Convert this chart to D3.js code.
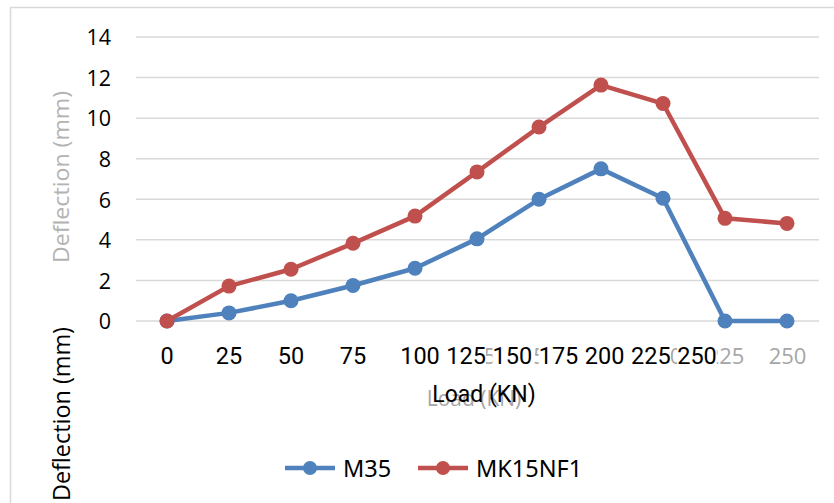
<!DOCTYPE html>
<html>
<head>
<meta charset="utf-8">
<script src="https://cdn.jsdelivr.net/npm/d3@7"></script>
<style>
  html, body { margin: 0; padding: 0; background: #fff; }
  svg { display: block; }
</style>
</head>
<body>
<svg id="chart" width="834" height="503"></svg>
<script>
// Load steps (kN) and measured mid-span deflection (mm) for both mixes
const loads = [0, 25, 50, 75, 100, 125, 150, 175, 200, 225, 250];
const m35 = [0, 0.4, 1.0, 1.75, 2.6, 4.05, 6.0, 7.5, 6.05, 0, 0];
const mk15nf1 = [0, 1.72, 2.55, 3.83, 5.17, 7.35, 9.56, 11.63, 10.72, 5.06, 4.81];
const yTicks = [0, 2, 4, 6, 8, 10, 12, 14];
const seriesNames = ["M35", "MK15NF1"];
const seriesColors = ["#4f81bd", "#c0504d"];

const svg = d3.select("#chart");

// frame
svg.append("path")
  .attr("d", "M10.5,503 V7.5 H834")
  .attr("fill", "none")
  .attr("stroke", "#d9d9d9")
  .attr("stroke-width", 1.5);

const x = d3.scalePoint().domain(loads).range([167, 787]);
const y = d3.scaleLinear().domain([0, 14]).range([321, 37]);

// horizontal gridlines
svg.append("g")
  .selectAll("line")
  .data(yTicks)
  .join("line")
  .attr("x1", 136).attr("x2", 819)
  .attr("y1", d => y(d)).attr("y2", d => y(d))
  .attr("stroke", "#d9d9d9")
  .attr("stroke-width", 1.5);

// y tick labels
const yAxis = d3.axisLeft(y).tickValues(yTicks).tickSize(0).tickPadding(0);
const yg = svg.append("g").attr("transform", "translate(111,0)").call(yAxis);
yg.select(".domain").remove();
yg.selectAll("text")
  .attr("font-family", "'Open Sans', sans-serif")
  .attr("font-size", 21.5)
  .attr("fill", "#000")
  .attr("dy", "0.36em");

// faint y title behind the tick labels
svg.append("text")
  .attr("transform", "translate(69,177) rotate(-90)")
  .attr("text-anchor", "middle")
  .attr("font-family", "'Open Sans', sans-serif")
  .attr("font-size", 21)
  .attr("fill", "#b3b3b3")
  .attr("textLength", 172)
  .attr("lengthAdjust", "spacingAndGlyphs")
  .text("Deflection (mm)");

// dark y title, lower left
svg.append("text")
  .attr("transform", "translate(70,414) rotate(-90)")
  .attr("text-anchor", "middle")
  .attr("font-family", "'Open Sans', sans-serif")
  .attr("font-size", 23)
  .attr("fill", "#000")
  .attr("textLength", 174)
  .attr("lengthAdjust", "spacingAndGlyphs")
  .text("Deflection (mm)");

// faint category labels at the point positions; the ones fully
// covered by the dark row (0–100) are left out
const xAxis = d3.axisBottom(x).tickSize(0).tickPadding(0)
  .tickValues(loads.filter(d => d > 100));
const xg = svg.append("g").attr("transform", "translate(0,364)").call(xAxis);
xg.select(".domain").remove();
xg.selectAll("text")
  .attr("dy", 0)
  .attr("font-family", "'Open Sans', sans-serif")
  .attr("font-size", 22)
  .attr("fill", "#a6a6a6");

// dark category labels, packed tighter after 75
const xDark = d3.scaleLinear().domain([0, 3, 4, 10]).range([167, 353, 420, 697]);
const darkG = svg.append("g");
const darkLbl = darkG.selectAll("g").data(loads).join("g")
  .attr("transform", (d, i) => `translate(${xDark(i)},364)`);
darkLbl.append("text")
  .attr("text-anchor", "middle")
  .attr("font-family", "Roboto, sans-serif")
  .attr("font-size", 23.5)
  .attr("fill", "#000")
  .text(d => d);
darkLbl.each(function () {
  const b = d3.select(this).select("text").node().getBBox();
  d3.select(this).insert("rect", "text")
    .attr("x", b.x).attr("y", b.y + 3)
    .attr("width", b.width).attr("height", b.height - 4)
    .attr("fill", "#fff");
});

// x title: faint copy underneath, dark on top
svg.append("text")
  .attr("x", 474).attr("y", 406)
  .attr("text-anchor", "middle")
  .attr("font-family", "'Open Sans', sans-serif")
  .attr("font-size", 21)
  .attr("fill", "#a6a6a6")
  .text("Load (KN)");
svg.append("text")
  .attr("x", 484).attr("y", 402)
  .attr("text-anchor", "middle")
  .attr("font-family", "Roboto, sans-serif")
  .attr("font-size", 23)
  .attr("fill", "#000")
  .text("Load (KN)");

// series lines and markers
const series = [m35, mk15nf1];
const line = d3.line().x((d, i) => x(loads[i])).y(d => y(d));
const sg = svg.append("g").selectAll("g").data(series).join("g");
sg.append("path")
  .attr("d", d => line(d))
  .attr("fill", "none")
  .attr("stroke", (d, i) => seriesColors[i])
  .attr("stroke-width", 4.5)
  .attr("stroke-linejoin", "round");
sg.each(function (vals, si) {
  d3.select(this).selectAll("circle").data(vals).join("circle")
    .attr("cx", (d, i) => x(loads[i]))
    .attr("cy", d => y(d))
    .attr("r", 7.5)
    .attr("fill", seriesColors[si]);
});

// legend
const legendX = [285, 418];
const lg = svg.append("g").selectAll("g").data(seriesNames).join("g")
  .attr("transform", (d, i) => `translate(${legendX[i]},468)`);
lg.append("line")
  .attr("x1", 0).attr("x2", 50)
  .attr("stroke", (d, i) => seriesColors[i])
  .attr("stroke-width", 4.5);
lg.append("circle")
  .attr("cx", 25).attr("r", 7)
  .attr("fill", (d, i) => seriesColors[i]);
lg.append("text")
  .attr("x", 58).attr("y", 9)
  .attr("font-family", "'Noto Sans', sans-serif")
  .attr("font-size", 23.5)
  .attr("fill", "#000")
  .text(d => d);
</script>
</body>
</html>
